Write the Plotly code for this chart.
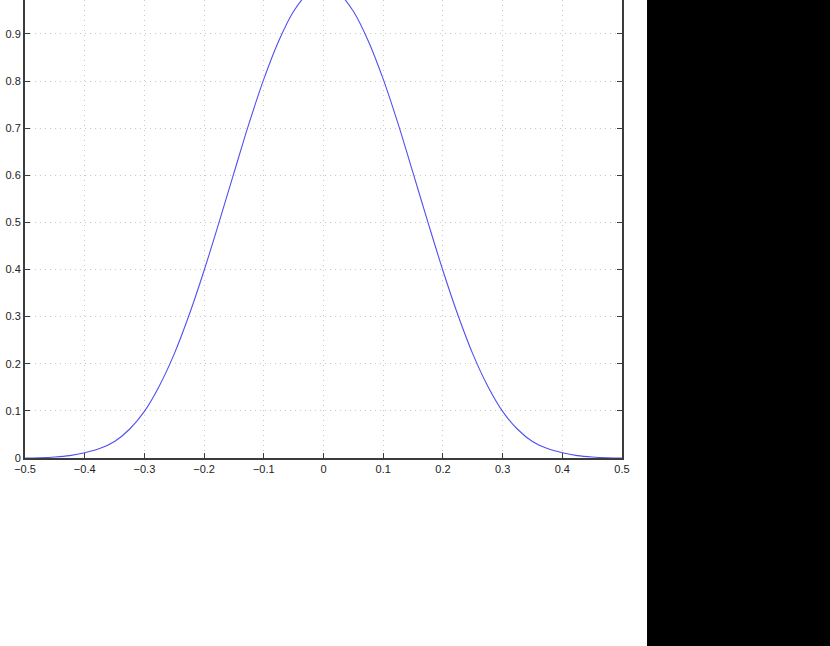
import plotly.graph_objs as go

# curve
x_vals = [-0.5, -0.475, -0.45, -0.425, -0.4, -0.375, -0.35, -0.325, -0.3, -0.275,
          -0.25, -0.225, -0.2, -0.175, -0.15, -0.125, -0.1, -0.075, -0.05, -0.025,
          0.0, 0.025, 0.05, 0.075, 0.1, 0.125, 0.15, 0.175, 0.2, 0.225,
          0.25, 0.275, 0.3, 0.325, 0.35, 0.375, 0.4, 0.425, 0.45, 0.475, 0.5]
y_vals = [0.0, 0.0005, 0.002, 0.005, 0.011, 0.02, 0.035, 0.061, 0.099, 0.153,
          0.221, 0.304, 0.398, 0.500, 0.605, 0.709, 0.804, 0.885, 0.948, 0.987,
          1.0, 0.987, 0.948, 0.885, 0.804, 0.709, 0.605, 0.500, 0.398, 0.304,
          0.221, 0.153, 0.099, 0.061, 0.035, 0.02, 0.011, 0.005, 0.002, 0.0005, 0.0]

x_ticks = [-0.5, -0.4, -0.3, -0.2, -0.1, 0, 0.1, 0.2, 0.3, 0.4, 0.5]
x_labels = ['\u22120.5', '\u22120.4', '\u22120.3', '\u22120.2', '\u22120.1', '0',
            '0.1', '0.2', '0.3', '0.4', '0.5']
y_ticks = [0, 0.1, 0.2, 0.3, 0.4, 0.5, 0.6, 0.7, 0.8, 0.9, 1.0]
y_labels = ['0', '0.1', '0.2', '0.3', '0.4', '0.5', '0.6', '0.7', '0.8', '0.9', '1']

fig = go.Figure()
fig.add_trace(go.Scatter(x=x_vals, y=y_vals, mode='lines',
                         line=dict(color='#5050f0', width=1.1, shape='spline', smoothing=1.0),
                         showlegend=False))

axis_style = dict(
    showline=True, linecolor='#3c3c3c', linewidth=2,
    ticks='inside', ticklen=5, tickcolor='#3c3c3c', tickwidth=1,
    showgrid=True, gridcolor='#c8c8c8', griddash='1px,4px', gridwidth=1,
    zeroline=False,
    tickfont=dict(family='Liberation Sans, Arial', size=11, color='#222222'),
)

fig.update_layout(
    width=830, height=646,
    margin=dict(l=25, r=208, t=0, b=188),
    paper_bgcolor='white', plot_bgcolor='white',
    xaxis=dict(range=[-0.5, 0.5], tickvals=x_ticks, ticktext=x_labels, **axis_style),
    yaxis=dict(range=[0, 0.972], tickvals=y_ticks, ticktext=y_labels, mirror='ticks',
               **axis_style),
    shapes=[dict(type='rect', xref='paper', yref='paper',
                 x0=1.0419, x1=1.36, y0=-0.42, y1=1.02,
                 fillcolor='black', line=dict(width=0), layer='above')],
)

# the page's default 8px body margin would shift the whole figure
fig.write_html("out.html", config={'displayModeBar': False},
               post_script="document.body.style.margin='0';")
